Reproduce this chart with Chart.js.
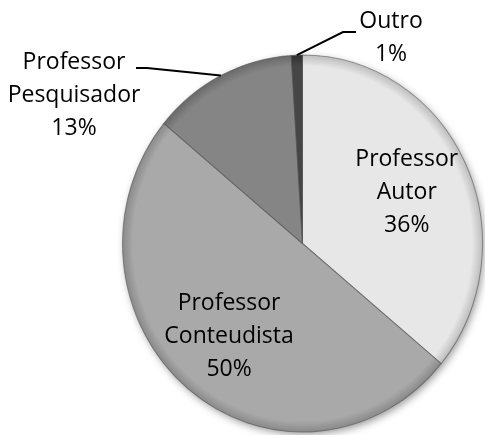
<!DOCTYPE html>
<html lang="pt">
<head>
<meta charset="UTF-8" />
<title>Pie</title>
<script src="https://cdn.jsdelivr.net/npm/chart.js@4.4.0/dist/chart.umd.min.js"></script>
<style>
  body { margin: 0; background: #fff; }
</style>
</head>
<body>
<canvas id="chart" width="485" height="435"></canvas>
<script>
  // data
  const categories = ['Professor Autor', 'Professor Conteudista', 'Professor Pesquisador', 'Outro'];
  const percentages = [36, 50, 13, 1];
  const labelLines = [['Professor', 'Autor'], ['Professor', 'Conteudista'], ['Professor', 'Pesquisador'], ['Outro']];

  const sliceColors = ['#e7e7e7', '#a9a9a9', '#858585', '#464646'];
  const rimColors = ['#bcbcbc', '#888888', '#686868', '#2e2e2e'];

  // the original pie is slightly stretched vertically
  const yStretch = 1.047;

  // outside labels: text centre and leader line start points
  const outsideLabels = {
    2: { text: [74, 95], line: [[136, 68], [147, 68]] },
    3: { text: [391, 38], line: [[356, 32], [343, 32]] }
  };

  function sliceFill(context) {
    const chart = context.chart;
    const area = chart.chartArea;
    const i = context.dataIndex;
    if (!area) return sliceColors[i];
    const cx = (area.left + area.right) / 2;
    const cy = (area.top + area.bottom) / 2;
    const r = Math.min(area.right - area.left, area.bottom - area.top) / 2;
    const g = chart.ctx.createRadialGradient(cx, cy, 0, cx, cy, r);
    g.addColorStop(0, sliceColors[i]);
    g.addColorStop(0.94, sliceColors[i]);
    g.addColorStop(1, rimColors[i]);
    return g;
  }

  const stretchPlugin = {
    id: 'stretch',
    beforeDatasetsDraw(chart) {
      const ctx = chart.ctx;
      const arc = chart.getDatasetMeta(0).data[0];
      const p = arc.getProps(['x', 'y', 'outerRadius']);
      ctx.save();
      ctx.translate(p.x, p.y);
      ctx.scale(1, yStretch);
      ctx.translate(-p.x, -p.y);
      // soft shadow under the pie
      ctx.save();
      ctx.shadowColor = 'rgba(0,0,0,0.45)';
      ctx.shadowBlur = 8;
      ctx.shadowOffsetX = 2;
      ctx.shadowOffsetY = 3;
      ctx.fillStyle = '#999';
      ctx.beginPath();
      ctx.arc(p.x, p.y, p.outerRadius - 1, 0, Math.PI * 2);
      ctx.fill();
      ctx.restore();
    },
    afterDatasetsDraw(chart) {
      chart.ctx.restore();
    }
  };

  const labelPlugin = {
    id: 'sliceLabels',
    afterDraw(chart) {
      const ctx = chart.ctx;
      const meta = chart.getDatasetMeta(0);
      ctx.save();
      ctx.font = '23px "Open Sans"';
      ctx.fillStyle = '#000';
      ctx.textAlign = 'center';
      ctx.textBaseline = 'middle';
      ctx.strokeStyle = '#000';
      ctx.lineWidth = 2;
      meta.data.forEach((arc, i) => {
        const p = arc.getProps(['x', 'y', 'startAngle', 'endAngle', 'outerRadius']);
        const mid = (p.startAngle + p.endAngle) / 2;
        const lines = labelLines[i].concat(percentages[i] + '%');
        const out = outsideLabels[i];
        let tx, ty;
        if (!out) {
          tx = p.x + Math.cos(mid) * p.outerRadius * 0.64;
          ty = p.y + Math.sin(mid) * p.outerRadius * 0.64 * yStretch;
        } else {
          const ex = p.x + Math.cos(mid) * p.outerRadius;
          const ey = p.y + Math.sin(mid) * p.outerRadius * yStretch;
          ctx.beginPath();
          ctx.moveTo(out.line[0][0], out.line[0][1]);
          ctx.lineTo(out.line[1][0], out.line[1][1]);
          ctx.lineTo(ex, ey);
          ctx.stroke();
          tx = out.text[0];
          ty = out.text[1];
        }
        lines.forEach((t, k) => {
          ctx.fillText(t, tx, ty + (k - (lines.length - 1) / 2) * 33);
        });
      });
      ctx.restore();
    }
  };

  new Chart(document.getElementById('chart'), {
    type: 'pie',
    data: {
      labels: categories,
      datasets: [{
        data: percentages,
        backgroundColor: sliceFill,
        borderColor: 'rgba(80,80,80,0.55)',
        borderWidth: 1
      }]
    },
    options: {
      responsive: false,
      animation: false,
      layout: { padding: { left: 122, right: 2, top: 63, bottom: 11 } },
      plugins: {
        legend: { display: false },
        tooltip: { enabled: false }
      }
    },
    plugins: [stretchPlugin, labelPlugin]
  });
</script>
</body>
</html>
